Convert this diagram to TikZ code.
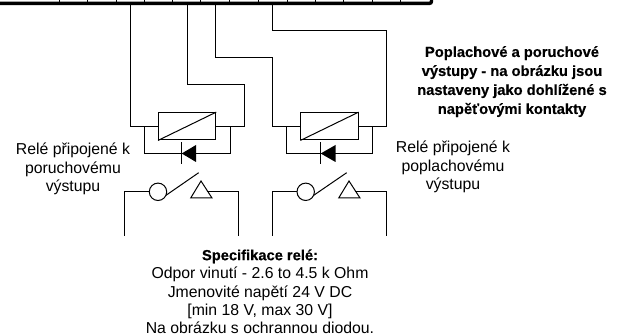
\documentclass[tikz,border=0pt]{standalone}
\usepackage{fontspec}
\setmainfont[BoldFeatures={FakeBold=0.4}]{Liberation Sans}
\usetikzlibrary{calc}
\tikzset{
  x=1pt,y=-1pt,
  wire/.style={draw=black,line width=1pt},
  coil/.style={draw=black,line width=1pt,rectangle,minimum width=57.2pt,minimum height=27.3pt,inner sep=0pt},
  contact/.style={draw=black,line width=1pt,circle,minimum size=17.4pt,inner sep=0pt},
  lab/.style={align=center,font=\fontsize{15.8}{18.6}\selectfont,inner sep=0pt},
  blab/.style={align=center,font=\fontsize{14.7}{19}\selectfont\bfseries,inner sep=0pt},
  spec/.style={align=center,font=\fontsize{15.8}{18.4}\selectfont,inner sep=0pt}
}
\begin{document}
\begin{tikzpicture}
\useasboundingbox (0,0) rectangle (618,336);
% terminal strip
\coordinate (barL) at (0,3.4);
\coordinate (barR) at (431.5,3.4);
\draw[line width=3.4pt,rounded corners=2pt] (barL) -- (barR) -- (431.5,0);
\foreach \i/\x in {a/59,b/87.7,c/116,d/144.5,e/172.7,f/200.7,g/229,h/258,i/287,j/315,k/343,l/372,m/400.7}
  \draw[wire] (\x,0) -- (\x,3);
% terminals
\coordinate (t1) at (130.7,3.4);
\coordinate (t2) at (187.3,3.4);
\coordinate (t3) at (215.7,3.4);
\coordinate (t4) at (272.7,3.4);
% relay 1
\node[coil] (r1) at (187.1,126.3) {};
\draw[wire] (r1.south west) -- (r1.north east);
\coordinate (d1l) at (144.3,126.3);
\coordinate (d1r) at (230,126.3);
\coordinate (d1lb) at (144.3,153.5);
\coordinate (d1rb) at (230,153.5);
\draw[wire] (t1) |- (r1.west);
\draw[wire] (t2) |- (244.3,85) |- (r1.east);
\draw[wire] (d1l) -- (d1lb) -- (d1rb) -- (d1r);
\fill (181.7,153.5) -- (196,145) -- (196,162) -- cycle;
\draw[wire] (181.7,142.3) -- (181.7,164);
% relay 2
\node[coil] (r2) at (329.5,126.3) {};
\draw[wire] (r2.south west) -- (r2.north east);
\coordinate (d2l) at (286.7,126.3);
\coordinate (d2r) at (372.3,126.3);
\coordinate (d2lb) at (286.7,153.5);
\coordinate (d2rb) at (372.3,153.5);
\draw[wire] (t3) |- (272.7,58) |- (r2.west);
\draw[wire] (t4) |- (386.7,30.7) |- (r2.east);
\draw[wire] (d2l) -- (d2lb) -- (d2rb) -- (d2r);
\fill (320.7,153.5) -- (335.5,145) -- (335.5,162) -- cycle;
\draw[wire] (320.7,142.3) -- (320.7,164);
% contact 1
\node[contact] (c1) at (158,191.8) {};
\coordinate (s1) at (198.7,172.7);
\draw[wire] (c1) ++(24:8.7) -- (s1);
\draw[wire,line join=miter] (201,181) -- (190.7,198) -- (212,198) -- cycle;
\coordinate (t1r) at (206.5,191.8);
\draw[wire] (c1.west) -| (124.7,236);
\draw[wire] (t1r) -- (238.3,191.8) -- (238.3,236);
% contact 2
\node[contact] (c2) at (305.7,191.8) {};
\coordinate (s2) at (346.7,172.7);
\draw[wire] (c2) ++(24:8.7) -- (s2);
\draw[wire,line join=miter] (349,181) -- (338.7,198) -- (360,198) -- cycle;
\coordinate (t2r) at (354.5,191.8);
\draw[wire] (c2.west) -| (272.7,236);
\draw[wire] (t2r) -- (386.7,191.8) -- (386.7,236);
% labels
\node[lab] (l1) at (73,169) {Relé připojené k\\poruchovému\\výstupu};
\node[lab] (l2) at (453,167) {Relé připojené k\\poplachovému\\výstupu};
\node[blab] (l3) at (512,81.6) {Poplachové a poruchové\\výstupy - na obrázku jsou\\nastaveny jako dohlížené s\\napěťovými kontakty};
\node[spec] (l4) at (260,291.7) {{\fontsize{14.7}{18.4}\selectfont\textbf{Specifikace relé:}}\\Odpor vinutí - 2.6 to 4.5 k Ohm\\Jmenovité napětí 24 V DC\\{[}min 18 V, max 30 V{]}\\Na obrázku s ochrannou diodou.};
\end{tikzpicture}
\end{document}
